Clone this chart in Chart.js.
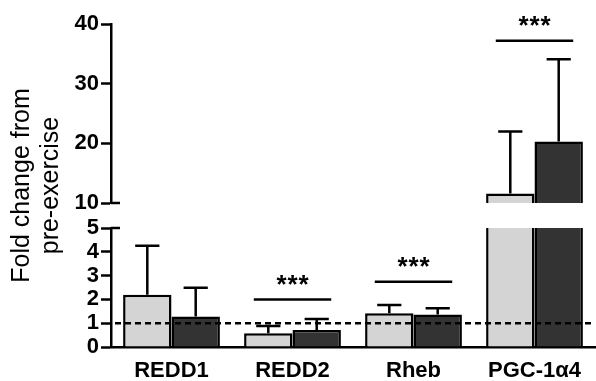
<!DOCTYPE html>
<html>
<head>
<meta charset="utf-8">
<script src="https://cdn.jsdelivr.net/npm/chart.js@4.4.0/dist/chart.umd.min.js"></script>
<style>
  html, body { margin: 0; padding: 0; background: #fff; }
</style>
</head>
<body>
<canvas id="foldChart" width="596" height="381"></canvas>
<script>
const categories = ["REDD1", "REDD2", "Rheb", "PGC-1α4"];
const lightMeans = [2.2, 0.58, 1.42, 11.6];
const lightSD = [2.05, 0.3, 0.34, 10.4];
const darkMeans = [1.28, 0.71, 1.37, 20.3];
const darkSD = [1.21, 0.47, 0.26, 13.8];
const lowTicks = [0, 1, 2, 3, 4, 5];
const highTicks = [10, 20, 30, 40];
const sigCategories = ["REDD2", "Rheb", "PGC-1α4"];
const sigHeights = [2.0, 2.74, 37.2];
const baseline = 1;
const yTitle = ["Fold change from", "pre-exercise"];

const FONT = "'Liberation Sans', Arial, sans-serif";
const breakAt = highTicks[0];

// which half of the broken axis a value belongs to
const scaleFor = (v) => (v > breakAt ? "yTop" : "yBot");

const errorBars = {
  id: "errorBars",
  afterDatasetsDraw(chart) {
    const ctx = chart.ctx;
    ctx.save();
    ctx.strokeStyle = "#000";
    ctx.lineWidth = 2.5;
    [[lightMeans, lightSD, 0], [darkMeans, darkSD, 1]].forEach(([means, sds, ds]) => {
      const bars = chart.getDatasetMeta(ds).data;
      means.forEach((m, i) => {
        const x = bars[i].x;
        const half = bars[i].width / 4;
        const y0 = chart.scales[scaleFor(m)].getPixelForValue(m);
        const top = m + sds[i];
        const y1 = chart.scales[scaleFor(top)].getPixelForValue(top);
        ctx.beginPath();
        ctx.moveTo(x, y0);
        ctx.lineTo(x, y1);
        ctx.moveTo(x - half, y1);
        ctx.lineTo(x + half, y1);
        ctx.stroke();
      });
    });
    ctx.restore();
  },
};

const extras = {
  id: "extras",
  afterDatasetsDraw(chart) {
    const ctx = chart.ctx;
    const { yTop, yBot, x } = chart.scales;
    const area = chart.chartArea;
    ctx.save();
    ctx.strokeStyle = "#000";
    ctx.fillStyle = "#000";

    // dashed reference line at 1
    ctx.lineWidth = 2.5;
    ctx.setLineDash([6, 4]);
    const yb = yBot.getPixelForValue(baseline);
    ctx.beginPath();
    ctx.moveTo(area.left + 4, yb);
    ctx.lineTo(area.right, yb);
    ctx.stroke();
    ctx.setLineDash([]);

    // axis break caps
    [yTop.getPixelForValue(breakAt), yBot.getPixelForValue(lowTicks[lowTicks.length - 1])].forEach((y) => {
      ctx.beginPath();
      ctx.moveTo(area.left, y);
      ctx.lineTo(area.left + 9, y);
      ctx.stroke();
    });

    // significance bars
    const meta = chart.getDatasetMeta(0);
    sigCategories.forEach((cat, k) => {
      const i = categories.indexOf(cat);
      const cx = x.getPixelForValue(i);
      const half = meta.data[i].width * 0.8;
      const y = chart.scales[scaleFor(sigHeights[k])].getPixelForValue(sigHeights[k]);
      ctx.lineWidth = 2.5;
      ctx.beginPath();
      ctx.moveTo(cx - half, y);
      ctx.lineTo(cx + half, y);
      ctx.stroke();
      ctx.font = "bold 26px " + FONT;
      ctx.textAlign = "center";
      ctx.textBaseline = "middle";
      [-11, 0, 11].forEach((dx) => ctx.fillText("*", cx + dx, y - 14));
    });

    // y title spanning both axis halves
    const cy = (yTop.top + yBot.bottom) / 2;
    ctx.font = "25px " + FONT;
    ctx.textAlign = "center";
    ctx.textBaseline = "middle";
    ctx.translate(0, cy);
    ctx.rotate(-Math.PI / 2);
    ctx.fillText(yTitle[0], 0, 22);
    ctx.fillText(yTitle[1], 0, 51);
    ctx.restore();
  },
};

const axisCommon = {
  border: { display: true, color: "#000", width: 2.5 },
  grid: { drawOnChartArea: false, drawTicks: true, tickLength: 10, tickWidth: 2.5, tickColor: "#000" },
  afterFit: (s) => { s.width = 40; },
};

const tickFont = { family: FONT, size: 22, weight: "bold", lineHeight: 1 };
const barStyle = { borderColor: "#000", borderWidth: 2.5, borderSkipped: "start" };

new Chart(document.getElementById("foldChart"), {
  type: "bar",
  data: {
    labels: categories,
    datasets: [
      { ...barStyle, label: "light", data: lightMeans, backgroundColor: "#d4d4d4", yAxisID: "yBot", stack: "light" },
      { ...barStyle, label: "dark", data: darkMeans, backgroundColor: "#333333", yAxisID: "yBot", stack: "dark" },
      { ...barStyle, label: "light top", data: lightMeans.map((v) => (v > breakAt ? v : null)), backgroundColor: "#d4d4d4", yAxisID: "yTop", stack: "light" },
      { ...barStyle, label: "dark top", data: darkMeans.map((v) => (v > breakAt ? v : null)), backgroundColor: "#333333", yAxisID: "yTop", stack: "dark" },
    ],
  },
  options: {
    responsive: false,
    animation: false,
    categoryPercentage: 0.8,
    barPercentage: 1.0,
    layout: { padding: { left: 71, top: 24, right: 1, bottom: 0 } },
    plugins: { legend: { display: false }, tooltip: { enabled: false } },
    scales: {
      x: {
        border: { display: true, color: "#000", width: 2.5 },
        grid: { display: false, drawTicks: false },
        ticks: { color: "#000", padding: 11, font: { family: FONT, size: 22, weight: "bold" } },
        afterFit: (s) => { s.height = 34; },
      },
      yTop: {
        ...axisCommon,
        position: "left",
        stack: "left",
        stackWeight: 179,
        weight: 2,
        stacked: false,
        min: highTicks[0],
        max: highTicks[highTicks.length - 1],
        afterBuildTicks: (s) => { s.ticks = highTicks.map((v) => ({ value: v })); },
        ticks: { autoSkip: false, color: "#000", padding: 2, font: tickFont },
      },
      yGap: {
        position: "left",
        stack: "left",
        stackWeight: 25,
        weight: 1,
        min: 0,
        max: 1,
        border: { display: false },
        grid: { display: false, drawTicks: false },
        ticks: { display: false },
        afterFit: (s) => { s.width = 40; },
      },
      yBot: {
        ...axisCommon,
        position: "left",
        stack: "left",
        stackWeight: 119,
        weight: 0,
        stacked: false,
        min: lowTicks[0],
        max: lowTicks[lowTicks.length - 1],
        afterBuildTicks: (s) => { s.ticks = lowTicks.map((v) => ({ value: v })); },
        ticks: { autoSkip: false, color: "#000", padding: 2, font: tickFont },
      },
    },
  },
  plugins: [errorBars, extras],
});
</script>
</body>
</html>
